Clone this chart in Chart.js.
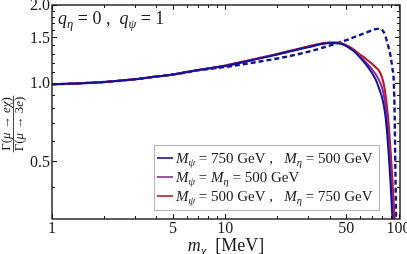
<!DOCTYPE html>
<html>
<head>
<meta charset="utf-8">
<script src="https://cdn.jsdelivr.net/npm/chart.js@4/dist/chart.umd.min.js"></script>
<style>
html, body { margin: 0; padding: 0; background: #fff; }
canvas { display: block; }
</style>
</head>
<body>
<canvas id="rateChart" width="407" height="254"></canvas>
<script>
// ── data ──
const mChi = [1, 1.5, 2, 3, 4, 5, 7, 10, 15, 20, 30, 40, 45, 50, 55, 60, 65, 70, 74, 77, 80, 82, 84, 86, 88, 90, 92, 94, 95, 96, 97, 98];

const ratioPsi750 = [0.99, 1.0, 1.01, 1.035, 1.06, 1.08, 1.125, 1.165, 1.235, 1.29, 1.375, 1.428, 1.425, 1.39, 1.33, 1.255, 1.18, 1.10, 1.03, 0.96, 0.89, 0.83, 0.75, 0.64, 0.52, 0.41, 0.31, 0.22, 0.18, 0.15, 0.12, 0.10];
const ratioEqual500 = [0.99, 1.0, 1.01, 1.035, 1.06, 1.08, 1.125, 1.167, 1.238, 1.293, 1.38, 1.43, 1.428, 1.395, 1.34, 1.27, 1.20, 1.135, 1.08, 1.03, 0.97, 0.91, 0.83, 0.72, 0.60, 0.48, 0.37, 0.28, 0.24, 0.20, 0.16, 0.12];
const ratioEta750 = [0.99, 1.0, 1.01, 1.035, 1.06, 1.08, 1.125, 1.17, 1.242, 1.297, 1.385, 1.435, 1.433, 1.40, 1.35, 1.29, 1.24, 1.19, 1.15, 1.12, 1.06, 1.0, 0.91, 0.80, 0.68, 0.55, 0.44, 0.34, 0.30, 0.26, 0.22, 0.18];
const ratioDashed = [0.99, 1.0, 1.01, 1.035, 1.06, 1.08, 1.12, 1.155, 1.205, 1.245, 1.32, 1.395, 1.43, 1.465, 1.50, 1.535, 1.565, 1.595, 1.615, 1.62, 1.605, 1.575, 1.52, 1.44, 1.36, 1.27, 1.15, 1.0, 0.75, 0.45, 0.28, 0.18];

const xMajor = [1, 5, 10, 50, 100];
const xMinor = [2, 3, 4, 6, 7, 8, 9, 20, 30, 40, 60, 70, 80, 90];
const yMajor = [0.5, 1.0, 1.5, 2.0];
const yMinor = [0.4, 0.6, 0.7, 0.8, 0.9, 1.1, 1.2, 1.3, 1.4, 1.6, 1.7, 1.8, 1.9];

const BLUE = "#12129a";
const PURPLE = "#8a2a9a";
const RED = "#c0141e";
const SERIF = '"Liberation Serif", "DejaVu Serif", serif';

const legendRows = [
    { color: BLUE, parts: [["M", "i"], ["ψ", "is"], [" = 750 GeV ,   ", "r"], ["M", "i"], ["η", "is"], [" = 500 GeV", "r"]] },
    { color: PURPLE, parts: [["M", "i"], ["ψ", "is"], [" = ", "r"], ["M", "i"], ["η", "is"], [" = 500 GeV", "r"]] },
    { color: RED, parts: [["M", "i"], ["ψ", "is"], [" = 500 GeV ,   ", "r"], ["M", "i"], ["η", "is"], [" = 750 GeV", "r"]] },
];

function pts(ys) {
    return mChi.map((m, i) => ({ x: m, y: ys[i] }));
}

// ── small mixed italic / roman text helper ──
function setFont(ctx, kind, size) {
    const sub = kind.includes("s");
    const s = sub ? size * 0.7 : size;
    ctx.font = `${kind[0] === "i" ? "italic " : ""}${s}px ${SERIF}`;
    return sub ? size * 0.22 : 0;
}

function drawRich(ctx, parts, x, y, size, align) {
    let w = 0;
    for (const p of parts) {
        setFont(ctx, p[1], size);
        w += ctx.measureText(p[0]).width;
    }
    let cx = align === "center" ? x - w / 2 : align === "right" ? x - w : x;
    ctx.textAlign = "left";
    ctx.textBaseline = "alphabetic";
    for (const p of parts) {
        const dy = setFont(ctx, p[1], size);
        ctx.fillText(p[0], cx, y + dy);
        cx += ctx.measureText(p[0]).width;
    }
    return w;
}

// ── frame, inside ticks, labels, legend ──
const decorPlugin = {
    id: "decor",
    afterDatasetsDraw(chart) {
        const { ctx, chartArea: a, scales } = chart;
        const xs = scales.x, ys = scales.y;
        ctx.save();
        ctx.strokeStyle = "#1a1a1a";
        ctx.fillStyle = "#1a1a1a";

        // ticks on all four sides, pointing inward
        ctx.lineWidth = 1;
        ctx.beginPath();
        const xt = (v, len) => {
            const px = Math.round(xs.getPixelForValue(v)) + 0.5;
            ctx.moveTo(px, a.bottom); ctx.lineTo(px, a.bottom - len);
            ctx.moveTo(px, a.top); ctx.lineTo(px, a.top + len);
        };
        const yt = (v, len) => {
            const py = Math.round(ys.getPixelForValue(v)) + 0.5;
            ctx.moveTo(a.left, py); ctx.lineTo(a.left + len, py);
            ctx.moveTo(a.right, py); ctx.lineTo(a.right - len, py);
        };
        xMajor.forEach((v) => xt(v, 5));
        xMinor.forEach((v) => xt(v, 3));
        yMajor.forEach((v) => yt(v, 5));
        yMinor.forEach((v) => yt(v, 3));
        ctx.stroke();

        // frame
        ctx.lineWidth = 1.4;
        ctx.strokeRect(a.left, a.top, a.right - a.left, a.bottom - a.top);

        // tick labels
        ctx.font = `16px ${SERIF}`;
        ctx.textAlign = "right";
        ctx.textBaseline = "middle";
        yMajor.forEach((v) => ctx.fillText(v.toFixed(1), a.left - 2, ys.getPixelForValue(v) + 1));
        ctx.textAlign = "center";
        ctx.textBaseline = "top";
        xMajor.forEach((v) => ctx.fillText(String(v), xs.getPixelForValue(v), a.bottom + 2));

        // axis titles
        drawRich(ctx, [["m", "i"], ["χ", "is"], ["  [MeV]", "r"]], (a.left + a.right) / 2, 251, 18, "center");

        ctx.save();
        ctx.translate(13, 124);
        ctx.rotate(-Math.PI / 2);
        const fs = 13;
        const wNum = drawRich(ctx, [["Γ(", "r"], ["μ", "i"], [" → ", "r"], ["e", "i"], ["χ", "i"], [")", "r"]], 0, -3, fs, "center");
        const wDen = drawRich(ctx, [["Γ(", "r"], ["μ", "i"], [" → ", "r"], ["3", "r"], ["e", "i"], [")", "r"]], 0, 10, fs, "center");
        const half = Math.max(wNum, wDen) / 2 + 1;
        ctx.lineWidth = 0.8;
        ctx.beginPath();
        ctx.moveTo(-half, 0.5); ctx.lineTo(half, 0.5);
        ctx.stroke();
        ctx.restore();

        // annotation
        drawRich(ctx, [["q", "i"], ["η", "is"], [" = 0 ,  ", "r"], ["q", "i"], ["ψ", "is"], [" = 1", "r"]], 58, 24, 18, "left");

        // legend box
        const lx = 154, ly = 145, lw = 225, lh = 65;
        ctx.fillStyle = "#fff";
        ctx.fillRect(lx, ly, lw, lh);
        ctx.strokeStyle = "#b4b4b4";
        ctx.lineWidth = 1;
        ctx.strokeRect(lx + 0.5, ly + 0.5, lw, lh);
        legendRows.forEach((row, i) => {
            const cy = 158 + i * 19;
            ctx.strokeStyle = row.color;
            ctx.lineWidth = 1.6;
            ctx.beginPath();
            ctx.moveTo(157, cy); ctx.lineTo(173, cy);
            ctx.stroke();
            ctx.fillStyle = "#1a1a1a";
            drawRich(ctx, row.parts, 176, cy + 5, 15, "left");
        });

        ctx.restore();
    },
};

new Chart(document.getElementById("rateChart"), {
    type: "line",
    data: {
        datasets: [
            { label: "psi750", data: pts(ratioPsi750), borderColor: BLUE, borderWidth: 2 },
            { label: "equal500", data: pts(ratioEqual500), borderColor: PURPLE, borderWidth: 2 },
            { label: "eta750", data: pts(ratioEta750), borderColor: RED, borderWidth: 2 },
            { label: "dashed", data: pts(ratioDashed), borderColor: BLUE, borderWidth: 2.4, borderDash: [5, 3] },
        ],
    },
    options: {
        responsive: false,
        animation: false,
        devicePixelRatio: 1,
        layout: { padding: { left: 52, top: 5, right: 7, bottom: 35 } },
        elements: {
            point: { radius: 0 },
            line: { tension: 0.35, cubicInterpolationMode: "monotone", fill: false },
        },
        plugins: { legend: { display: false }, tooltip: { enabled: false }, title: { display: false } },
        scales: {
            x: { type: "logarithmic", min: 1, max: 102, display: false },
            y: { type: "logarithmic", min: 0.3, max: 2.0, display: false },
        },
    },
    plugins: [decorPlugin],
});
</script>
</body>
</html>
